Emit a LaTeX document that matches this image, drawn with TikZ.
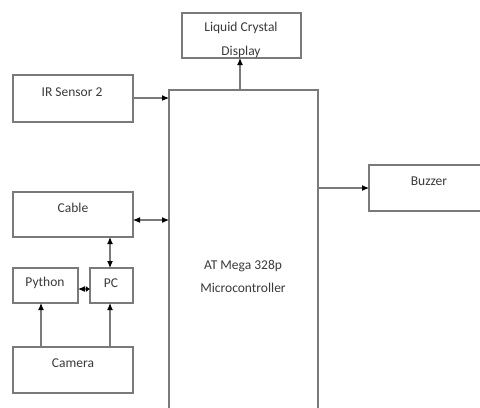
\documentclass[tikz,border=0pt]{standalone}
\usepackage{fontspec}
\setmainfont{Carlito}
\usetikzlibrary{arrows.meta}
\begin{document}
\begin{tikzpicture}[x=1bp,y=-1bp,
  blk/.style={draw=boxgray,line width=1.3bp,fill=white},
  lbl/.style={text=txtgray,font=\fontsize{13.5bp}{16bp}\selectfont,inner sep=0pt},
  tip/.tip={Latex[length=7bp,width=6bp,black]},
  conn/.style={draw=boxgray,line width=1.1bp,-tip},
  dconn/.style={draw=boxgray,line width=1.1bp,tip-tip}]
\definecolor{boxgray}{HTML}{7A7A7A}
\definecolor{txtgray}{HTML}{3A3A3A}
\useasboundingbox (0,0) rectangle (480,407);
\begin{scope}
\clip (0,0) rectangle (480,407);
% boxes
\path[blk] (182,13) rectangle (301,58);
\coordinate (lcdS) at (240,58);
\path[blk] (169,90) rectangle (318,420);
\coordinate (mcuN) at (240,90);
\coordinate (mcuW1) at (169,98);
\coordinate (mcuW2) at (169,220);
\coordinate (mcuE) at (318,188);
\path[blk] (13,75) rectangle (133,122);
\coordinate (irE) at (133,98);
\path[blk] (13,192) rectangle (133,237);
\coordinate (cabE) at (133,220);
\coordinate (cabS) at (110,237);
\path[blk] (90,268) rectangle (133,303);
\coordinate (pcN) at (110,268);
\coordinate (pcW) at (90,289);
\coordinate (pcS) at (110,303);
\path[blk] (13,268) rectangle (78,303);
\coordinate (pyE) at (78,289);
\coordinate (pyS) at (41,303);
\path[blk] (13,347) rectangle (133,393);
\coordinate (camN1) at (41,347);
\coordinate (camN2) at (110,347);
\path[blk] (369,165) rectangle (500,211);
\coordinate (buzW) at (369,188);
% labels
\node[lbl] (lcd1) at (241,28) {Liquid Crystal};
\begin{scope}
\clip (182,13) rectangle (301,57);
\node[lbl] (lcd2) at (241,52) {Display};
\end{scope}
\node[lbl] (mcu1) at (243,266) {AT Mega 328p};
\node[lbl] (mcu2) at (243,288) {Microcontroller};
\node[lbl] (ir) at (72,92) {IR Sensor 2};
\node[lbl] (cab) at (73,208) {Cable};
\node[lbl] (pc) at (111,283) {PC};
\node[lbl] (py) at (45,283) {Python};
\node[lbl] (cam) at (73,363) {Camera};
\node[lbl] (buz) at (429,181) {Buzzer};
% connectors
\draw[conn] (mcuN) -- (lcdS);
\draw[conn] (irE) -- (mcuW1);
\draw[dconn] (cabE) -- (mcuW2);
\draw[dconn] (cabS) -- (pcN);
\draw[draw=boxgray,line width=1.1bp,tip-{Latex[length=4bp,width=6bp,black]}] (pyE) -- (pcW);
\draw[conn] (camN1) -- (pyS);
\draw[conn] (camN2) -- (pcS);
\draw[conn] (mcuE) -- (buzW);
\end{scope}
\end{tikzpicture}
\end{document}
